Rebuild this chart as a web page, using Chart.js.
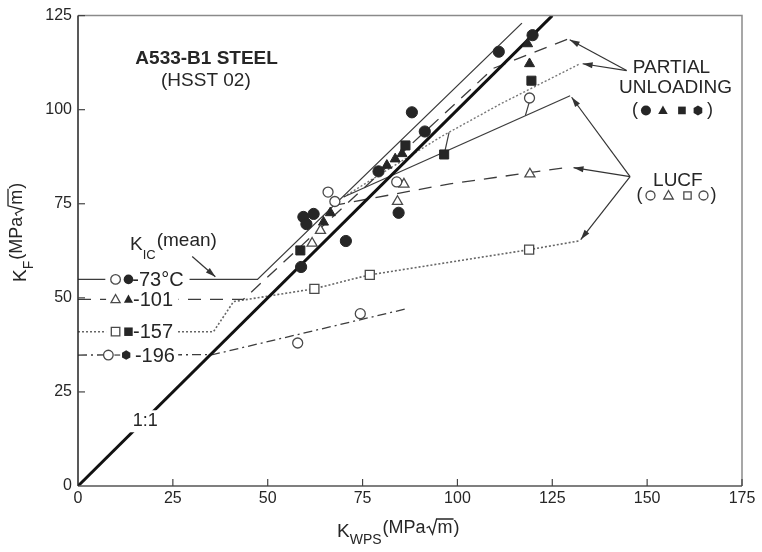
<!DOCTYPE html>
<html>
<head>
<meta charset="utf-8">
<script src="https://cdn.jsdelivr.net/npm/chart.js@4.4.1/dist/chart.umd.min.js"></script>
<style>
  html, body { margin: 0; padding: 0; background: #fff; }
  #wrap { width: 762px; height: 552px; }
</style>
</head>
<body>
<div id="wrap"><canvas id="chart" width="762" height="552"></canvas></div>
<script>
// axis ticks
const X_TICKS = [0, 25, 50, 75, 100, 125, 150, 175];
const Y_TICKS = [0, 25, 50, 75, 100, 125];

// K_IC(mean) curves and prediction lines, [K_WPS, K_F]
const lineOneToOne = [[0, 0], [125, 125]];
const lineKic73 = [[0, 54.9], [47.3, 54.9], [117, 123]];
const lineKic101 = [[0, 49.6], [43.6, 49.6], [109.5, 111], [129.2, 118.8]];
const lineKic157 = [[0, 41], [35.7, 41], [41, 49], [62.2, 52.4], [76.8, 56.1], [118.9, 62.8], [131.9, 65.1]];
const lineKic196 = [[0, 34.8], [35.5, 34.9], [86.6, 47.1]];
const lineLucf73 = [[70, 76.8], [129.7, 103.7]];
const lineLucf101 = [[67, 74.5], [98, 80.3], [129.2, 84.7]];
const linePu157 = [[70, 76.8], [96, 93], [111.3, 101.5], [132.3, 112.2]];
const tieSquare = [[96.6, 88.5], [97.8, 94]];
const tieCircle = [[119, 102.2], [117.9, 98.4]];

// partial unloading (filled) and LUCF (open) results
const puCircles = [[88, 99.3], [91.4, 94.2], [110.9, 115.4], [79.2, 83.6], [119.8, 119.8], [84.5, 72.6],
  [70.6, 65.1], [58.8, 58.2], [59.4, 71.5], [62.1, 72.3], [60.2, 69.6]];
const puTriangles = [[81.4, 85.2], [83.6, 86.9], [85.4, 88.3], [66.5, 72.6], [64.7, 70.1], [119, 112.2], [118.5, 117.5]];
const puSquares = [[96.5, 88.1], [119.5, 107.7], [58.6, 62.6], [86.3, 90.5]];
const lucfCircles = [[119, 103.1], [65.9, 78.1], [67.7, 75.6], [84, 80.8], [57.9, 38], [74.4, 45.8]];
const lucfTriangles = [[85.9, 80.2], [84.2, 75.6], [63.9, 67.9], [61.7, 64.5], [119.1, 82.9]];
const lucfSquares = [[62.3, 52.4], [76.9, 56.1], [118.9, 62.8]];

// annotation arrows [from, to]
const arrows = [
  [[30.1, 61.0], [36.2, 55.6]],
  [[144.6, 110.4], [129.6, 118.6]],
  [[144.6, 110.4], [133, 112.2]],
  [[145.5, 82.2], [130.1, 103.3]],
  [[145.5, 82.2], [130.6, 84.6]],
  [[145.5, 82.2], [132.5, 65.5]]
];

const notes = [
  { t: 'A533-B1 STEEL', x: 33.9, y: 113.6, bold: true },
  { t: '(HSST 02)', x: 33.7, y: 107.7 },
  { t: 'PARTIAL', x: 156.4, y: 111.2 },
  { t: 'UNLOADING', x: 157.5, y: 105.9 },
  { t: 'LUCF', x: 158.1, y: 81.2 },
  { t: '1:1', x: 17.7, y: 17.2, blank: true }
];

const tempRows = [
  { t: '-73\u00b0C', y: 54.9, keys: [['circle', false, 9.9], ['circle', true, 13.3]], tx: 14.3, from: 7.2, to: 29.4 },
  { t: '-101', y: 49.6, keys: [['triangle', false, 9.9], ['triangle', true, 13.3]], tx: 14.5, from: 7.4, to: 26.5 },
  { t: '-157', y: 41, keys: [['rect', false, 9.9], ['rect', true, 13.3]], tx: 14.5, from: 7.4, to: 26.2 },
  { t: '-196', y: 34.8, keys: [['circle', false, 8.0], ['hex', true, 12.7]], tx: 15.0, from: 6.8, to: 26.4 }
];

const FONT = '"Liberation Sans", Arial, sans-serif';
const INK = '#262626';
const LINE = '#3c3c3c';

const xy = pts => pts.map(([x, y]) => ({ x, y }));

function lineSet(pts, dash, width, color) {
  return {
    data: xy(pts), showLine: true, pointRadius: 0, borderColor: color || LINE,
    borderWidth: width, borderDash: dash, tension: 0, fill: false, order: 2
  };
}

function pointSet(pts, style, filled, radius) {
  return {
    data: xy(pts), showLine: false, pointStyle: style, pointRadius: radius,
    pointBackgroundColor: filled ? INK : '#fff', pointBorderColor: filled ? INK : '#4a4a4a',
    pointBorderWidth: filled ? 1 : 1.3, order: 1
  };
}

function mark(ctx, type, x, y, r, filled) {
  ctx.beginPath();
  if (type === 'circle') {
    ctx.arc(x, y, r, 0, Math.PI * 2);
  } else if (type === 'triangle') {
    ctx.moveTo(x, y - r);
    ctx.lineTo(x + r * 0.95, y + r * 0.7);
    ctx.lineTo(x - r * 0.95, y + r * 0.7);
    ctx.closePath();
  } else if (type === 'rect') {
    ctx.rect(x - r * 0.85, y - r * 0.85, r * 1.7, r * 1.7);
  } else if (type === 'hex') {
    for (let i = 0; i < 6; i++) {
      const a = Math.PI / 6 + i * Math.PI / 3;
      const fn = i ? 'lineTo' : 'moveTo';
      ctx[fn](x + r * Math.cos(a), y + r * Math.sin(a));
    }
    ctx.closePath();
  }
  if (filled) {
    ctx.fillStyle = INK; ctx.fill();
  } else {
    ctx.fillStyle = '#fff'; ctx.fill();
    ctx.strokeStyle = '#4a4a4a'; ctx.lineWidth = 1.3; ctx.stroke();
  }
}

function unitTitle(ctx, sub) {
  let cx = 0;
  ctx.fillStyle = INK;
  ctx.strokeStyle = INK;
  ctx.textAlign = 'left';
  ctx.textBaseline = 'alphabetic';
  ctx.font = '19px ' + FONT;
  ctx.fillText('K', cx, 0);
  cx += ctx.measureText('K').width;
  ctx.font = '14px ' + FONT;
  ctx.fillText(sub, cx, 7);
  cx += ctx.measureText(sub).width + 1;
  ctx.font = '18px ' + FONT;
  ctx.fillText('(MPa', cx, -4);
  cx += ctx.measureText('(MPa').width + 1;
  const mw = ctx.measureText('m').width;
  ctx.lineWidth = 1.3;
  ctx.beginPath();
  ctx.moveTo(cx, -9); ctx.lineTo(cx + 2.5, -10.5); ctx.lineTo(cx + 6, -3);
  ctx.lineTo(cx + 10, -18); ctx.lineTo(cx + 12 + mw, -18);
  ctx.stroke();
  cx += 11;
  ctx.fillText('m', cx, -4);
  cx += mw + 1;
  ctx.fillText(')', cx, -4);
}

function arrow(ctx, x1, y1, x2, y2) {
  const a = Math.atan2(y2 - y1, x2 - x1);
  ctx.beginPath();
  ctx.moveTo(x1, y1); ctx.lineTo(x2, y2);
  ctx.stroke();
  ctx.beginPath();
  ctx.moveTo(x2, y2);
  ctx.lineTo(x2 - 10 * Math.cos(a) + 3 * Math.sin(a), y2 - 10 * Math.sin(a) - 3 * Math.cos(a));
  ctx.lineTo(x2 - 10 * Math.cos(a) - 3 * Math.sin(a), y2 - 10 * Math.sin(a) + 3 * Math.cos(a));
  ctx.closePath();
  ctx.fill();
}

const overlay = {
  id: 'overlay',
  afterDatasetsDraw(chart) {
    const { ctx, chartArea: a, scales: { x, y } } = chart;
    const px = v => x.getPixelForValue(v);
    const py = v => y.getPixelForValue(v);
    ctx.save();

    // frame
    ctx.lineWidth = 1.5;
    ctx.strokeStyle = '#8a8a8a';
    ctx.beginPath();
    ctx.moveTo(a.left, a.top); ctx.lineTo(a.right, a.top); ctx.lineTo(a.right, a.bottom);
    ctx.stroke();
    ctx.strokeStyle = '#555';
    ctx.beginPath(); ctx.moveTo(a.left, a.bottom); ctx.lineTo(a.right, a.bottom); ctx.stroke();
    ctx.strokeStyle = '#222';
    ctx.beginPath(); ctx.moveTo(a.left, a.top); ctx.lineTo(a.left, a.bottom); ctx.stroke();

    // inward ticks
    ctx.lineWidth = 1.2;
    ctx.strokeStyle = '#444';
    X_TICKS.slice(1).forEach(v => {
      ctx.beginPath(); ctx.moveTo(px(v), a.bottom); ctx.lineTo(px(v), a.bottom - 7); ctx.stroke();
    });
    Y_TICKS.slice(1).forEach(v => {
      ctx.beginPath(); ctx.moveTo(a.left, py(v)); ctx.lineTo(a.left + 7, py(v)); ctx.stroke();
    });

    // temperature keys on the K_IC lines
    ctx.textBaseline = 'middle';
    ctx.textAlign = 'left';
    tempRows.forEach(r => {
      ctx.fillStyle = '#fff';
      ctx.fillRect(px(r.from), py(r.y) - 10, px(r.to) - px(r.from), 20);
      r.keys.forEach(([type, filled, kx]) => mark(ctx, type, px(kx), py(r.y), type === 'rect' ? 5 : 4.8, filled));
      if (r.t === '-196') {
        ctx.strokeStyle = LINE; ctx.lineWidth = 1.2;
        ctx.beginPath(); ctx.moveTo(px(8.0) + 6, py(r.y)); ctx.lineTo(px(12.7) - 6, py(r.y)); ctx.stroke();
      }
      ctx.fillStyle = INK;
      ctx.font = '20px ' + FONT;
      ctx.fillText(r.t, px(r.tx), py(r.y) + 1);
    });

    // K_IC(mean) label
    const kx = 130, ky = 250;
    ctx.textBaseline = 'alphabetic';
    ctx.fillStyle = INK;
    ctx.font = '19px ' + FONT;
    ctx.fillText('K', kx, ky);
    let kw = ctx.measureText('K').width;
    ctx.font = '13px ' + FONT;
    ctx.fillText('IC', kx + kw, ky + 9);
    kw += ctx.measureText('IC').width + 1;
    ctx.font = '19px ' + FONT;
    ctx.fillText('(mean)', kx + kw, ky - 4);

    // text notes
    ctx.textAlign = 'center';
    ctx.textBaseline = 'middle';
    notes.forEach(n => {
      ctx.font = (n.bold ? 'bold ' : '') + (n.t === '1:1' ? '18px ' : '19px ') + FONT;
      if (n.blank) {
        const w = ctx.measureText(n.t).width;
        ctx.fillStyle = '#fff';
        ctx.fillRect(px(n.x) - w / 2 - 3, py(n.y) - 11, w + 6, 22);
      }
      ctx.fillStyle = INK;
      ctx.fillText(n.t, px(n.x), py(n.y));
    });

    // symbol keys for the right-hand labels
    ctx.font = '18px ' + FONT;
    const puX = px(156.8), puY = py(99.8);
    ctx.fillText('(', puX - 38, puY);
    ctx.fillText(')', puX + 37, puY);
    mark(ctx, 'circle', puX - 27, puY, 5, true);
    mark(ctx, 'triangle', puX - 10, puY, 5, true);
    mark(ctx, 'rect', puX + 9, puY, 4.5, true);
    mark(ctx, 'hex', puX + 25, puY, 5, true);
    const lcX = px(158), lcY = py(77.2);
    ctx.fillStyle = INK;
    ctx.fillText('(', lcX - 38, lcY);
    ctx.fillText(')', lcX + 36, lcY);
    mark(ctx, 'circle', lcX - 27, lcY, 4.5, false);
    mark(ctx, 'triangle', lcX - 9, lcY, 5, false);
    mark(ctx, 'rect', lcX + 10, lcY, 4.3, false);
    mark(ctx, 'circle', lcX + 26, lcY, 4.5, false);

    // arrows
    ctx.strokeStyle = '#333';
    ctx.fillStyle = '#333';
    ctx.lineWidth = 1.2;
    arrows.forEach(([f, t]) => arrow(ctx, px(f[0]), py(f[1]), px(t[0]), py(t[1])));

    ctx.restore();
  },
  afterDraw(chart) {
    const { ctx } = chart;
    ctx.save();
    ctx.translate(337, 537);
    unitTitle(ctx, 'WPS');
    ctx.restore();
    ctx.save();
    ctx.translate(26, 282);
    ctx.rotate(-Math.PI / 2);
    unitTitle(ctx, 'F');
    ctx.restore();
  }
};

const ctx = document.getElementById('chart').getContext('2d');
new Chart(ctx, {
  type: 'scatter',
  data: {
    datasets: [
      pointSet(lucfCircles, 'circle', false, 5),
      pointSet(lucfTriangles, 'triangle', false, 5.8),
      pointSet(lucfSquares, 'rect', false, 6.4),
      pointSet(puCircles, 'circle', true, 5.6),
      pointSet(puTriangles, 'triangle', true, 5.8),
      pointSet(puSquares, 'rect', true, 6.4),
      lineSet(lineOneToOne, [], 3, '#111'),
      lineSet(lineKic73, [], 1.3),
      lineSet(lineKic101, [13, 9], 1.3),
      lineSet(lineKic157, [2, 2], 1.6, '#666'),
      lineSet(lineKic196, [9, 4, 2, 4], 1.3),
      lineSet(lineLucf73, [], 1.3),
      lineSet(lineLucf101, [13, 9], 1.3),
      lineSet(linePu157, [2, 2], 1.4, '#777'),
      lineSet(tieSquare, [], 1.2),
      lineSet(tieCircle, [], 1.2)
    ]
  },
  options: {
    responsive: false,
    animation: false,
    layout: { padding: { top: 15, right: 20, left: 0, bottom: 0 } },
    plugins: {
      legend: { display: false },
      tooltip: { enabled: false }
    },
    scales: {
      x: {
        type: 'linear',
        min: 0,
        max: 175,
        afterFit: s => { s.height = 66; },
        afterBuildTicks: s => { s.ticks = X_TICKS.map(v => ({ value: v })); },
        ticks: { font: { family: FONT, size: 16 }, color: INK, padding: 3, maxRotation: 0 },
        grid: { display: false, drawTicks: false },
        border: { display: false }
      },
      y: {
        type: 'linear',
        min: 0,
        max: 125,
        afterFit: s => { s.width = 78; },
        afterBuildTicks: s => { s.ticks = Y_TICKS.map(v => ({ value: v })); },
        ticks: { font: { family: FONT, size: 16 }, color: INK, padding: 6 },
        grid: { display: false, drawTicks: false },
        border: { display: false }
      }
    }
  },
  plugins: [overlay]
});
</script>
</body>
</html>
